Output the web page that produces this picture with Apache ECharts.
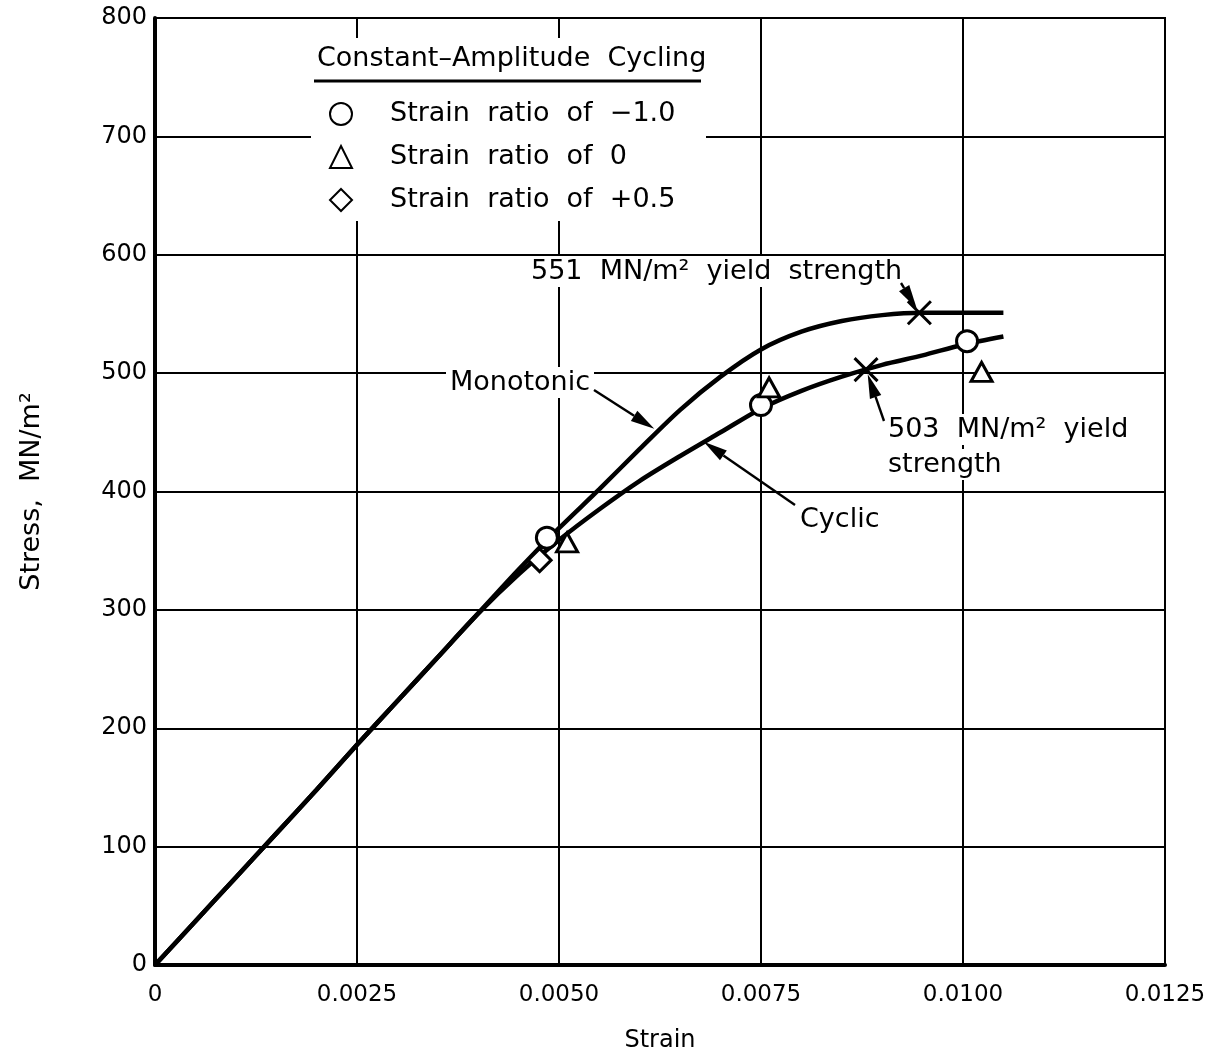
<!DOCTYPE html>
<html>
<head>
<meta charset="utf-8">
<script src="https://cdn.jsdelivr.net/npm/echarts@6/dist/echarts.min.js"></script>
<style>
html, body { margin: 0; padding: 0; background: #fff; }
#main { width: 1215px; height: 1060px; }
</style>
</head>
<body>
<div id="main"></div>
<script>
// monotonic and cyclic stress-strain curves (every 0.0005 strain)
var strainSteps = [0, 0.0005, 0.0010, 0.0015, 0.0020, 0.0025, 0.0030, 0.0035, 0.0040, 0.0045, 0.0050,
    0.0055, 0.0060, 0.0065, 0.0070, 0.0075, 0.0080, 0.0085, 0.0090, 0.0095, 0.0100, 0.0105];
var monoStress = [0, 37, 74, 111, 148, 186, 223, 260, 297, 334, 369,
    402, 436, 469, 497, 520, 535, 544, 549, 551, 551, 551];
var cycStress = [0, 37, 74, 111, 148, 186, 223, 260, 297, 330, 359,
    385, 409, 430, 450, 470, 485, 497, 507, 515, 524, 531];

// constant-amplitude test points
var circStrain = [0.00485, 0.0075, 0.01005];
var circStress = [361, 473, 527];
var triStrain = [0.0051, 0.0076, 0.01023];
var triStress = [357, 488, 501];
var diaStrain = [0.00476];
var diaStress = [342];

// yield strength marks
var yieldStrain = [0.0088, 0.00946];
var yieldStress = [503, 551];

var xTickLabels = ['0', '0.0025', '0.0050', '0.0075', '0.0100', '0.0125'];
var yTickLabels = ['0', '100', '200', '300', '400', '500', '600', '700', '800'];

var legendNames = ['Strain  ratio  of  \u22121.0', 'Strain  ratio  of  0', 'Strain  ratio  of  +0.5'];

var FONT = 'DejaVu Sans';

function pairs(xs, ys) {
    var out = [];
    for (var i = 0; i < xs.length; i++) {
        out.push([xs[i], ys[i]]);
    }
    return out;
}

var dom = document.getElementById('main');
var myChart = echarts.init(dom);
var option = null;
option = {
    animation: false,
    backgroundColor: '#fff',
    textStyle: { fontFamily: FONT, color: '#000' },
    grid: {
        left: 155, right: 50, top: 18, bottom: 95,
        show: true, borderColor: '#000', borderWidth: 2
    },
    xAxis: {
        type: 'value',
        min: 0, max: 0.0125, interval: 0.0025,
        name: 'Strain',
        nameLocation: 'middle',
        nameGap: 64,
        nameTextStyle: { fontFamily: FONT, fontSize: 24, color: '#000' },
        axisLine: { show: true, lineStyle: { color: '#000', width: 4 } },
        axisTick: { show: false },
        splitLine: { show: true, lineStyle: { color: '#000', width: 2 } },
        axisLabel: {
            margin: 19,
            fontFamily: FONT, fontSize: 23, color: '#000',
            formatter: function (v) { return xTickLabels[Math.round(v / 0.0025)]; }
        }
    },
    yAxis: {
        type: 'value',
        min: 0, max: 800, interval: 100,
        name: 'Stress,  MN/m\u00b2',
        nameLocation: 'middle',
        nameGap: 110,
        nameTextStyle: { fontFamily: FONT, fontSize: 27, color: '#000' },
        axisLine: { show: true, lineStyle: { color: '#000', width: 4 } },
        axisTick: { show: false },
        splitLine: { show: true, lineStyle: { color: '#000', width: 2 } },
        axisLabel: {
            margin: 8,
            fontFamily: FONT, fontSize: 24, color: '#000',
            formatter: function (v) { return yTickLabels[Math.round(v / 100)]; }
        }
    },
    legend: {
        orient: 'vertical',
        left: 324, top: 93,
        itemWidth: 22, itemHeight: 22,
        itemGap: 11,
        selectedMode: false,
        data: legendNames,
        textStyle: { fontFamily: FONT, fontSize: 27, color: '#000', lineHeight: 32, padding: [0, 0, 0, 33] }
    },
    series: [
        {
            name: 'Monotonic',
            type: 'line',
            data: pairs(strainSteps, monoStress),
            smooth: 0.3,
            showSymbol: false,
            lineStyle: { color: '#000', width: 4.5 },
            z: 2
        },
        {
            name: 'Cyclic',
            type: 'line',
            data: pairs(strainSteps, cycStress),
            smooth: 0.3,
            showSymbol: false,
            lineStyle: { color: '#000', width: 4.5 },
            z: 2
        },
        {
            name: legendNames[0],
            type: 'scatter',
            data: pairs(circStrain, circStress),
            symbol: 'circle', symbolSize: 21,
            itemStyle: { color: '#fff', borderColor: '#000', borderWidth: 3, opacity: 1 },
            z: 4
        },
        {
            name: legendNames[1],
            type: 'scatter',
            data: pairs(triStrain, triStress),
            symbol: 'triangle', symbolSize: [21, 19],
            itemStyle: { color: '#fff', borderColor: '#000', borderWidth: 3, opacity: 1 },
            z: 4
        },
        {
            name: legendNames[2],
            type: 'scatter',
            data: pairs(diaStrain, diaStress),
            symbol: 'diamond', symbolSize: [23, 23],
            itemStyle: { color: '#fff', borderColor: '#000', borderWidth: 3, opacity: 1 },
            z: 4
        },
        {
            name: 'Yield',
            type: 'scatter',
            data: pairs(yieldStrain, yieldStress),
            symbol: 'path://M0,0L10,10M10,0L0,10', symbolSize: 23,
            itemStyle: { color: 'none', borderColor: '#000', borderWidth: 3, opacity: 1 },
            z: 5
        }
    ]
};
if (option && typeof option === "object") {
    myChart.setOption(option, true);
}

// arrows and notes
function toPx(x, y) {
    return myChart.convertToPixel({ gridIndex: 0 }, [x, y]);
}

function arrow(tail, tip, back) {
    var dx = tip[0] - tail[0], dy = tip[1] - tail[1];
    var len = Math.sqrt(dx * dx + dy * dy);
    var ux = dx / len, uy = dy / len;
    var t = [tip[0] - ux * (back || 0), tip[1] - uy * (back || 0)];
    var headLen = 24, headW = 6;
    var bx = t[0] - ux * headLen, by = t[1] - uy * headLen;
    return [
        { type: 'polyline', z: 6, shape: { points: [tail, [bx, by]] }, style: { stroke: '#000', lineWidth: 2.4, fill: null } },
        { type: 'polygon', z: 6, shape: { points: [t, [bx - uy * headW, by + ux * headW], [bx + uy * headW, by - ux * headW]] }, style: { fill: '#000' } }
    ];
}

function note(text, left, cy) {
    return {
        type: 'text', z: 5, left: left, top: cy - 14,
        style: { text: text, font: '27px "DejaVu Sans"', fill: '#000', backgroundColor: '#fff', padding: [2, 4, 2, 4] }
    };
}

var g = [];
// legend box and title
g.push({ type: 'rect', z: 1, shape: { x: 311, y: 38, width: 395, height: 183 }, style: { fill: '#fff' } });
g.push({ type: 'text', z: 5, left: 317, top: 45, style: { text: 'Constant\u2013Amplitude  Cycling', font: '27px "DejaVu Sans"', fill: '#000' } });
g.push({ type: 'line', z: 5, shape: { x1: 314, y1: 81, x2: 701, y2: 81 }, style: { stroke: '#000', lineWidth: 3 } });

g.push(note('Monotonic', 446, 381));
g = g.concat(arrow([594, 390], toPx(0.0062, 452), 2));

g.push(note('Cyclic', 796, 518));
g = g.concat(arrow([795, 505], toPx(0.00677, 443), 2));

g.push(note('551  MN/m\u00b2  yield  strength', 527, 270));
g = g.concat(arrow([901, 283], toPx(yieldStrain[1], yieldStress[1]), 5));

g.push(note('503  MN/m\u00b2  yield', 884, 428));
g.push(note('strength', 884, 463));
g = g.concat(arrow([884, 421], toPx(yieldStrain[0], yieldStress[0]), 5));

myChart.setOption({ graphic: g });
</script>
</body>
</html>
